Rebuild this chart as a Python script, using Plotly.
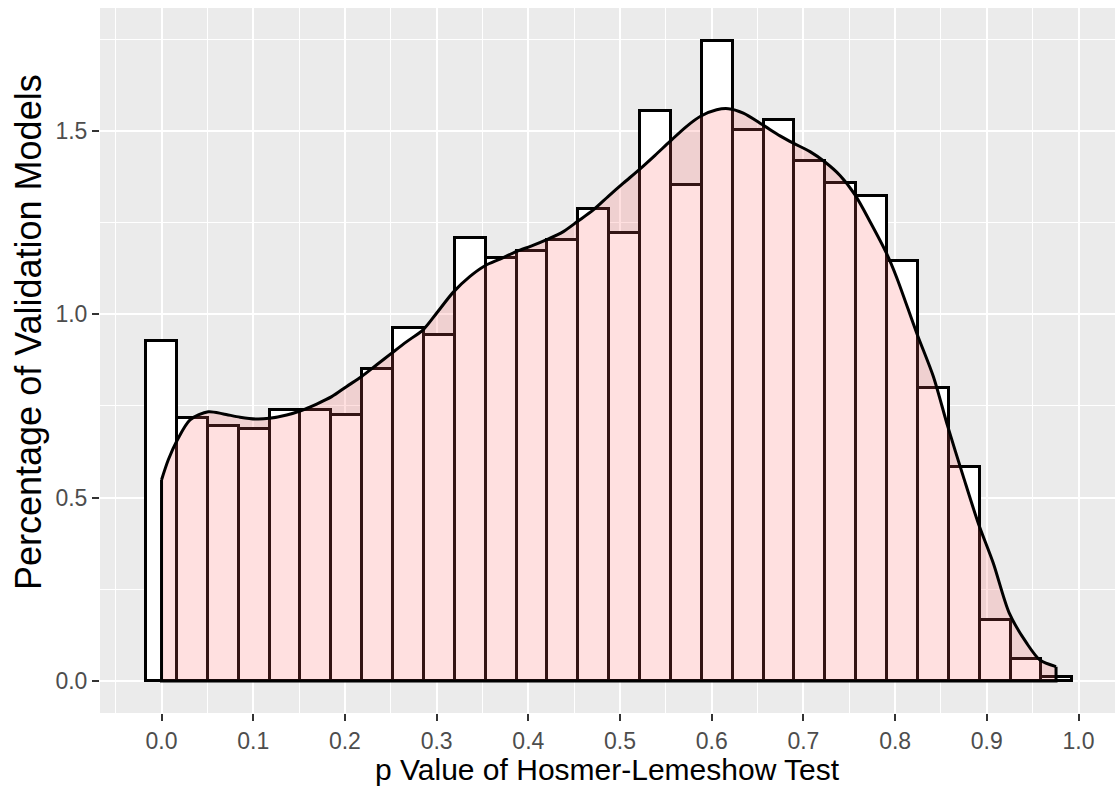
import plotly.graph_objects as go

# ---- data ----
bin_first_center = 0.0
bin_width = 0.03367
bar_heights = [0.928, 0.716, 0.696, 0.686, 0.739, 0.739, 0.725, 0.850, 0.963, 0.942,
               1.207, 1.154, 1.173, 1.203, 1.287, 1.222, 1.555, 1.352, 1.745, 1.501,
               1.530, 1.418, 1.358, 1.323, 1.144, 0.798, 0.584, 0.166, 0.059, 0.010]

dens_x = [0.0, 0.0074, 0.0172, 0.0311, 0.0510, 0.0674, 0.0856, 0.1038, 0.1176, 0.1365,
          0.1510, 0.1692, 0.1856, 0.2020, 0.2183, 0.2347, 0.2517, 0.2674, 0.2855, 0.3001,
          0.3182, 0.3364, 0.3528, 0.3691, 0.3873, 0.4037, 0.4201, 0.4382, 0.4539, 0.4709,
          0.4872, 0.5036, 0.5210, 0.5382, 0.5545, 0.5727, 0.5883, 0.6054, 0.6181, 0.6345,
          0.6556, 0.6745, 0.6890, 0.7072, 0.7228, 0.7399, 0.7563, 0.7727, 0.7908, 0.8017,
          0.8236, 0.8417, 0.8574, 0.8744, 0.8907, 0.9071, 0.9245, 0.9435, 0.9580, 0.9755]
dens_y = [0.548, 0.603, 0.657, 0.712, 0.734, 0.728, 0.719, 0.714, 0.716, 0.725,
          0.736, 0.755, 0.775, 0.803, 0.830, 0.862, 0.895, 0.925, 0.958, 1.003,
          1.060, 1.103, 1.132, 1.150, 1.171, 1.186, 1.203, 1.225, 1.253, 1.284,
          1.321, 1.357, 1.394, 1.433, 1.471, 1.512, 1.540, 1.557, 1.560, 1.548,
          1.516, 1.486, 1.466, 1.443, 1.416, 1.378, 1.325, 1.252, 1.165, 1.100,
          0.948, 0.830, 0.694, 0.557, 0.430, 0.321, 0.185, 0.103, 0.057, 0.039]

x_ticks = [0.0, 0.1, 0.2, 0.3, 0.4, 0.5, 0.6, 0.7, 0.8, 0.9, 1.0]
x_ticklabels = ["0.0", "0.1", "0.2", "0.3", "0.4", "0.5", "0.6", "0.7", "0.8", "0.9", "1.0"]
y_ticks = [0.0, 0.5, 1.0, 1.5]
y_ticklabels = ["0.0", "0.5", "1.0", "1.5"]

x_title = "p Value of Hosmer-Lemeshow Test"
y_title = "Percentage of Validation Models"

bar_centers = [bin_first_center + i * bin_width for i in range(len(bar_heights))]

fig = go.Figure()
fig.add_trace(go.Bar(
    x=bar_centers, y=bar_heights, width=bin_width,
    marker=dict(color="white", line=dict(color="black", width=3)),
    showlegend=False, hoverinfo="skip"))

fig.add_trace(go.Scatter(
    x=dens_x, y=dens_y, mode="lines",
    line=dict(color="black", width=3, shape="spline", smoothing=0.8),
    fill="tozeroy", fillcolor="rgba(255,102,102,0.2)",
    showlegend=False, hoverinfo="skip"))

# closing edges of the density polygon (vertical ends and baseline)
fig.add_trace(go.Scatter(
    x=[dens_x[0], dens_x[0], dens_x[-1], dens_x[-1]],
    y=[dens_y[0], 0, 0, dens_y[-1]],
    mode="lines", line=dict(color="black", width=3),
    showlegend=False, hoverinfo="skip"))

FONT = "Liberation Sans, Arial, sans-serif"
tick_font = dict(family=FONT, size=23, color="#4D4D4D")

fig.update_layout(
    width=1115, height=787,
    margin=dict(l=100, r=0, t=8, b=74, autoexpand=False),
    paper_bgcolor="white", plot_bgcolor="#EBEBEB",
    barmode="overlay", bargap=0,
    font=dict(family=FONT),
    xaxis=dict(
        range=[-0.0671, 1.0398], tickvals=x_ticks, ticktext=x_ticklabels,
        ticks="outside", ticklen=7, tickwidth=2.2, tickcolor="#333333",
        tickfont=tick_font, showgrid=True, gridcolor="white", gridwidth=2.2,
        zeroline=False, showline=False, automargin=False,
        minor=dict(tick0=0.05, dtick=0.1, showgrid=True, gridcolor="white", gridwidth=1.1, ticks=""),
    ),
    yaxis=dict(
        range=[-0.0873, 1.8345], tickvals=y_ticks, ticktext=y_ticklabels,
        ticks="outside", ticklen=7, tickwidth=2.2, tickcolor="#333333",
        tickfont=tick_font, showgrid=True, gridcolor="white", gridwidth=2.2,
        zeroline=False, showline=False, automargin=False,
        minor=dict(tick0=0.25, dtick=0.5, showgrid=True, gridcolor="white", gridwidth=1.1, ticks=""),
    ),
    annotations=[
        dict(text=x_title, xref="paper", yref="paper", x=0.5, y=(713 - 769) / 705,
             xanchor="center", yanchor="middle", showarrow=False,
             font=dict(family=FONT, size=30, color="black")),
        dict(text=y_title, xref="paper", yref="paper", x=(28 - 100) / 1015, y=(713 - 332) / 705,
             xanchor="center", yanchor="middle", textangle=-90, showarrow=False,
             font=dict(family=FONT, size=36, color="black")),
    ],
)

fig.write_html("out.html",
               config={"displayModeBar": False},
               post_script="document.body.style.margin='0';document.body.style.padding='0';")
